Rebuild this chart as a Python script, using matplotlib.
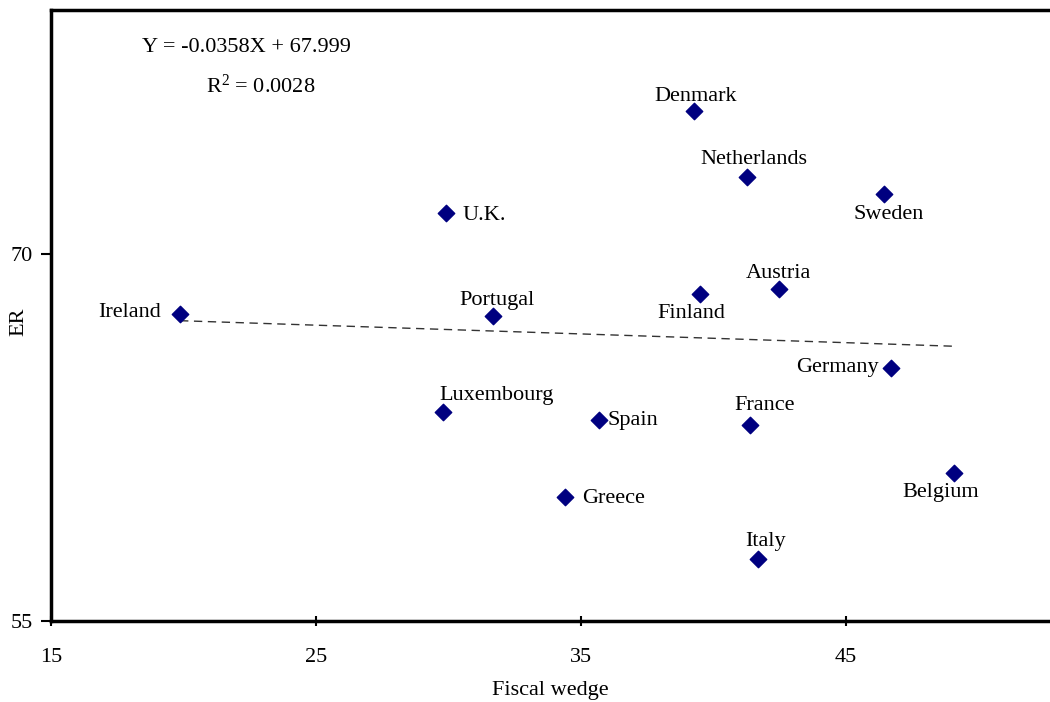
import numpy as np
import matplotlib.pyplot as plt

countries = ['Denmark', 'Netherlands', 'Sweden', 'U.K.', 'Austria', 'Finland',
             'Ireland', 'Portugal', 'Germany', 'Luxembourg', 'Spain', 'France',
             'Belgium', 'Greece', 'Italy']
wedge = [39.26, 41.26, 46.43, 29.9, 42.47, 39.49,
         19.87, 31.68, 46.7, 29.79, 35.68, 41.38,
         49.08, 34.4, 41.68]
er = [75.86, 73.16, 72.46, 71.68, 68.57, 68.36,
      67.58, 67.46, 65.37, 63.57, 63.24, 63.03,
      61.07, 60.08, 57.54]

slope = -0.0358
intercept = 67.999
r2 = 0.0028

# label offsets in pixels (dx, dy, ha)
offsets = {
    'Denmark': (2, 15, 'center'), 'Netherlands': (7, 18, 'center'),
    'Sweden': (5, -20, 'center'), 'U.K.': (17, -2, 'left'),
    'Austria': (0, 16, 'center'), 'Finland': (-9, -19, 'center'),
    'Ireland': (-19, 1, 'right'), 'Portugal': (4, 16, 'center'),
    'Germany': (-12, 0, 'right'), 'Luxembourg': (-4, 16, 'left'),
    'Spain': (8, -1, 'left'), 'France': (15, 19, 'center'),
    'Belgium': (-13, -20, 'center'), 'Greece': (17, -2, 'left'),
    'Italy': (8, 17, 'center'),
}

plt.rcParams['font.family'] = ['Liberation Serif', 'DejaVu Serif']

fig = plt.figure(figsize=(10.5, 7.02), dpi=100)
ax = fig.add_axes([51 / 1050, 81 / 702, 1 - 51 / 1050, 611 / 702])

ax.scatter(wedge, er, marker='D', s=70, color='#000080', zorder=3)

xs = np.array([min(wedge), max(wedge)])
ax.plot(xs, slope * xs + intercept, ls=(0, (6, 4)), color='#333333', lw=1)

for name, x, y in zip(countries, wedge, er):
    dx, dy, ha = offsets[name]
    ax.annotate(name, (x, y), xytext=(dx, dy), textcoords='offset pixels',
                ha=ha, va='center', fontsize=16)

ax.text(246, 654, 'Y = {:.4f}X + {:.3f}'.format(slope, intercept),
        transform=None, ha='center', va='center', fontsize=16)
ax.text(261, 616, '$\\mathregular{R^2}$ = %.4f' % r2,
        transform=None, ha='center', va='center', fontsize=16)

ax.set_xlim(15, 15 + (1050 - 51) / 26.5)
ax.set_ylim(55, 80)
ax.set_xticks([15, 25, 35, 45])
ax.set_yticks([55, 70])
ax.tick_params(axis='both', labelsize=16, width=1.5, length=7)
ax.tick_params(axis='x', direction='inout', pad=16)
ax.tick_params(axis='y', direction='out', pad=6)

for side in ['left', 'top', 'bottom']:
    ax.spines[side].set_linewidth(2.5)
ax.spines['right'].set_visible(False)

ax.set_xlabel('Fiscal wedge', fontsize=16, labelpad=10)
ax.set_ylabel('ER', fontsize=16)
ax.yaxis.set_label_coords(-23 / 999, 0.49)

fig.savefig('out.png', dpi=100)
